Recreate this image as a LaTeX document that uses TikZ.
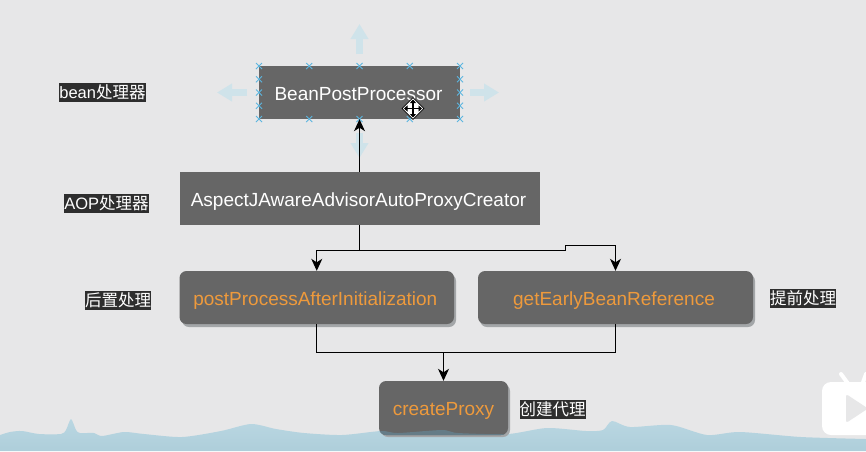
\documentclass[tikz,border=0pt]{standalone}
\usepackage{fontspec}
\setmainfont{Liberation Sans}
\newfontfamily\cjk{Noto Sans CJK SC}
\usetikzlibrary{arrows.meta,shapes.geometric}
\definecolor{canvas}{HTML}{E7E7E8}
\definecolor{slab}{HTML}{666666}
\definecolor{slabshadow}{HTML}{A3A6A8}
\definecolor{amber}{HTML}{EE9A3C}
\definecolor{handle}{HTML}{5CB6E0}
\definecolor{ghost}{HTML}{CFE3EA}
\definecolor{tagbg}{HTML}{2E2E2E}
\definecolor{wave}{HTML}{BAD7E2}
\definecolor{wavedeep}{HTML}{AECEDA}
\definecolor{wavebox}{HTML}{657C87}
\tikzset{
  plainbox/.style={fill=slab,text=white,minimum height=53pt,inner sep=0pt,text depth=4pt,text height=20pt,font=\fontsize{19}{21}\selectfont},
  softbox/.style={plainbox,text=amber,rounded corners=7pt},
  boxshadow/.style={fill=slabshadow,rounded corners=7pt},
  tag/.style={fill=tagbg,text=white,inner xsep=0pt,inner ysep=0pt,minimum height=19pt,font=\fontsize{16.5}{18}\selectfont},
  link/.style={draw=black,line width=1pt},
  tip/.style={-{Stealth[length=12pt,width=11pt,inset=3.5pt]}},
  ghostarrow/.style={draw=ghost,line width=7pt,-{Triangle[length=15pt,width=17pt]}},
}
\newcommand{\handlemark}[2]{%
  \draw[handle,line width=1pt] (#1-3,#2-3) -- (#1+3,#2+3) (#1-3,#2+3) -- (#1+3,#2-3);}
\def\waveline{plot[smooth,tension=0.45] coordinates {(0,435) (10,432) (22,431) (39,434) (61,434) (66,430) (71,419) (76,430) (80,433) (94,433) (102,436) (124,432) (144,434) (182,437) (221,431) (251,424) (276,429) (304,433) (342,435) (381,431) (398,433) (442,430) (458,433) (508,434) (547,428) (586,431) (603,430) (612,421) (630,427) (671,425) (707,435) (740,432) (801,437) (866,439)} -- (866,451) -- (0,451) -- cycle}
\begin{document}
\begin{tikzpicture}[x=1pt,y=-1pt]
\useasboundingbox (0,0) rectangle (866,451);
\fill[canvas] (0,0) rectangle (866,451);

% audio waveform along the lower edge
\shade[top color=wave,bottom color=wavedeep] \waveline;

% selection guides around the top box
\draw[ghostarrow] (359.5,54) -- (359.5,24);
\draw[ghostarrow] (247,92.5) -- (217,92.5);
\draw[ghostarrow] (470,92.5) -- (499,92.5);
\draw[ghostarrow] (359.5,133) -- (359.5,158);

% boxes
\fill[boxshadow] (182,274) rectangle (456,327);
\fill[boxshadow] (480,274) rectangle (755,327);
\fill[boxshadow] (381,384) rectangle (510,437);
\node[plainbox,minimum width=201pt,text height=19pt] (bpp) at (359.5,92.5) {\kern-2pt BeanPostProcessor};
\node[plainbox,minimum width=360pt] (aj) at (359.5,198.5) {\kern-2pt AspectJAwareAdvisorAutoProxyCreator};
\node[softbox,minimum width=274.5pt] (post) at (316.75,297.5) {\kern-3pt postProcessAfterInitialization};
\node[softbox,minimum width=275pt] (early) at (615.5,297.5) {\kern-3pt getEarlyBeanReference};
\node[softbox,minimum width=129pt,minimum height=54pt,text height=19pt] (cp) at (443.5,408) {createProxy};

% waveform showing through the foot of the lowest box
\begin{scope}
  \clip[rounded corners=7pt] (379,381) rectangle (508,435);
  \fill[wavebox] \waveline;
\end{scope}

% resize handles
\foreach \hx in {259,309.25,359.5,409.75,460} {\handlemark{\hx}{66}\handlemark{\hx}{119}}
\foreach \hy in {79.25,92.5,105.75} {\handlemark{259}{\hy}\handlemark{460}{\hy}}

% connectors
\coordinate (split) at (359.5,250);
\coordinate (jogA) at (565.5,250);
\coordinate (jogB) at (565.5,245);
\coordinate (merge) at (443.5,352);
\draw[link,tip] (aj.north) -- (bpp.south);
\draw[link,tip] (aj.south) -- (split) -| (post.north);
\draw[link,tip] (split) -- (jogA) -- (jogB) -| (early.north);
\draw[link] (post.south) |- (merge) -| (early.south);
\draw[link,tip] (merge) -- (cp.north);

% side captions
\node[tag,minimum width=85pt] (t1) at (102.5,92.5) {bean{\cjk 处理器}};
\node[tag,minimum width=85pt] (t2) at (106.5,203.5) {AOP{\cjk 处理器}};
\node[tag,minimum width=66pt] (t3) at (118,300.5) {\cjk 后置处理};
\node[tag,minimum width=66pt] (t4) at (803,298.5) {\cjk 提前处理};
\node[tag,minimum width=65pt] (t5) at (552.5,409.5) {\cjk 创建代理};

% move cursor
\node[diamond,fill=white,draw=black,line width=0.6pt,minimum width=22pt,minimum height=22pt,inner sep=0pt] (cursor) at (413,108.5) {};
\draw[black,line width=1.5pt,{Triangle[length=3.5pt,width=6pt]}-{Triangle[length=3.5pt,width=6pt]}] (404,108.5) -- (422,108.5);
\draw[black,line width=1.5pt,{Triangle[length=3.5pt,width=6pt]}-{Triangle[length=3.5pt,width=6pt]}] (413,99.5) -- (413,117.5);

% player badge in the corner
\draw[white,line width=4pt,line cap=round] (841,374) -- (849,385);
\draw[white,line width=4pt,line cap=round] (866,374) -- (862,385);
\fill[white,rounded corners=9pt] (822,382) rectangle (880,435);
\fill[canvas,rounded corners=2.5pt] (846,394) -- (846,423) -- (868,408.5) -- cycle;
\end{tikzpicture}
\end{document}
